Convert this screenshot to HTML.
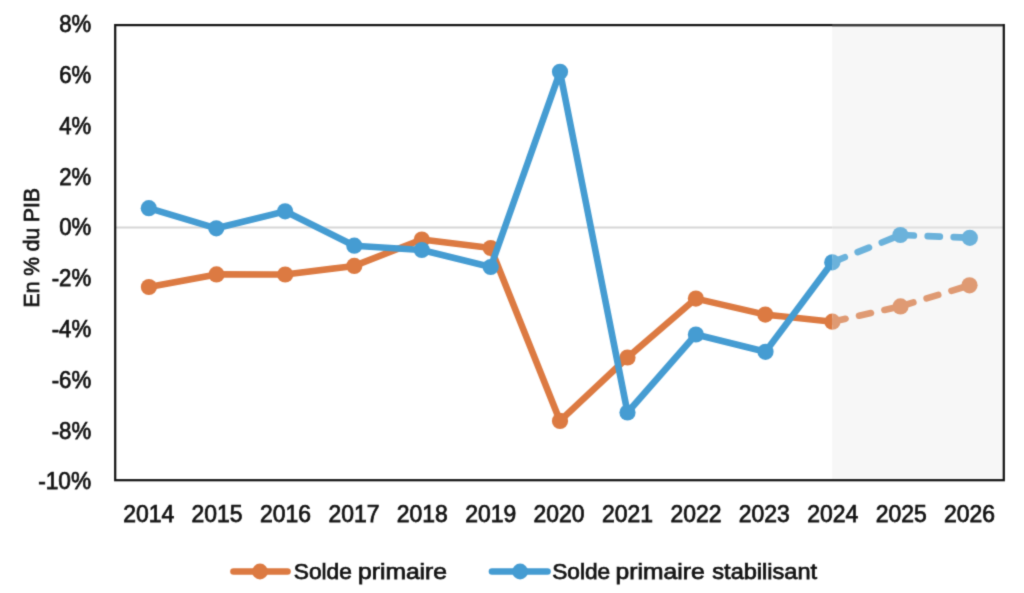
<!DOCTYPE html>
<html lang="fr"><head><meta charset="utf-8"><title>Solde primaire</title>
<style>
html,body{margin:0;padding:0;background:#fff;}
body{width:1024px;height:593px;overflow:hidden;}
svg{display:block;}
text{font-family:"Liberation Sans",sans-serif;font-size:23.5px;fill:#141414;stroke:#141414;stroke-width:0.75px;}
.lg{font-size:22.2px;}
</style></head><body>
<svg width="1024" height="593" viewBox="0 0 1024 593">
<defs>
<filter id="soft" color-interpolation-filters="sRGB" x="0" y="0" width="1024" height="593" filterUnits="userSpaceOnUse"><feConvolveMatrix order="3" kernelMatrix="0.0225 0.1050 0.0225 0.1050 0.4900 0.1050 0.0225 0.1050 0.0225" edgeMode="duplicate" preserveAlpha="false"/></filter>
<clipPath id="cl"><rect x="0" y="0" width="832.2" height="593"/></clipPath>
<clipPath id="cr"><rect x="832.2" y="0" width="191.79999999999995" height="593"/></clipPath>
</defs>
<rect width="1024" height="593" fill="#fff"/>
<g filter="url(#soft)">
<rect x="832.2" y="24" width="171.0" height="456" fill="#f7f7f7"/>
<line x1="115.5" y1="227.5" x2="832.2" y2="227.5" stroke="#d6d6d6" stroke-width="2"/>
<line x1="832.2" y1="227.5" x2="1003.5" y2="227.5" stroke="#dedede" stroke-width="2"/>
<g clip-path="url(#cl)">
<polyline points="148.9,287.0 216.5,274.4 285.2,274.5 354.3,265.9 421.8,239.5 490.7,248.0 560.0,420.9 627.5,357.5 695.9,298.6 765.3,314.6 832.4,321.7" fill="none" stroke="#DC7A42" stroke-width="6.6" stroke-linejoin="round" stroke-linecap="round"/>
<line x1="832.4" y1="321.7" x2="900.5" y2="306.4" stroke="#DC7A42" stroke-width="6.6" stroke-linecap="round" stroke-dasharray="12.2 13.8" stroke-dashoffset="-1.3"/>
<line x1="900.5" y1="306.4" x2="969.5" y2="285.3" stroke="#DC7A42" stroke-width="6.6" stroke-linecap="round" stroke-dasharray="12.2 13.8" stroke-dashoffset="-1.3"/>
<circle cx="148.9" cy="287.0" r="8.1" fill="#DC7A42"/>
<circle cx="216.5" cy="274.4" r="8.1" fill="#DC7A42"/>
<circle cx="285.2" cy="274.5" r="8.1" fill="#DC7A42"/>
<circle cx="354.3" cy="265.9" r="8.1" fill="#DC7A42"/>
<circle cx="421.8" cy="239.5" r="8.1" fill="#DC7A42"/>
<circle cx="490.7" cy="248.0" r="8.1" fill="#DC7A42"/>
<circle cx="560.0" cy="420.9" r="8.1" fill="#DC7A42"/>
<circle cx="627.5" cy="357.5" r="8.1" fill="#DC7A42"/>
<circle cx="695.9" cy="298.6" r="8.1" fill="#DC7A42"/>
<circle cx="765.3" cy="314.6" r="8.1" fill="#DC7A42"/>
<circle cx="832.4" cy="321.7" r="8.1" fill="#DC7A42"/>

<polyline points="148.8,208.2 216.3,228.3 285.1,211.3 354.3,245.7 421.8,250.0 490.7,267.0 560.0,71.8 627.5,412.5 695.9,334.5 765.5,351.8 832.3,262.3" fill="none" stroke="#459CD2" stroke-width="6.6" stroke-linejoin="round" stroke-linecap="round"/>
<line x1="832.3" y1="262.3" x2="900.4" y2="235.0" stroke="#459CD2" stroke-width="6.6" stroke-linecap="round" stroke-dasharray="12.2 13.8" stroke-dashoffset="-1.3"/>
<line x1="900.4" y1="235.0" x2="969.8" y2="237.8" stroke="#459CD2" stroke-width="6.6" stroke-linecap="round" stroke-dasharray="12.2 13.8" stroke-dashoffset="-1.3"/>
<circle cx="148.8" cy="208.2" r="8.1" fill="#459CD2"/>
<circle cx="216.3" cy="228.3" r="8.1" fill="#459CD2"/>
<circle cx="285.1" cy="211.3" r="8.1" fill="#459CD2"/>
<circle cx="354.3" cy="245.7" r="8.1" fill="#459CD2"/>
<circle cx="421.8" cy="250.0" r="8.1" fill="#459CD2"/>
<circle cx="490.7" cy="267.0" r="8.1" fill="#459CD2"/>
<circle cx="560.0" cy="71.8" r="8.1" fill="#459CD2"/>
<circle cx="627.5" cy="412.5" r="8.1" fill="#459CD2"/>
<circle cx="695.9" cy="334.5" r="8.1" fill="#459CD2"/>
<circle cx="765.5" cy="351.8" r="8.1" fill="#459CD2"/>
<circle cx="832.3" cy="262.3" r="8.1" fill="#459CD2"/>

</g>
<g clip-path="url(#cr)">
<line x1="832.4" y1="321.7" x2="900.5" y2="306.4" stroke="#DF9A73" stroke-width="6.6" stroke-linecap="round" stroke-dasharray="12.2 13.8" stroke-dashoffset="-1.3"/>
<line x1="900.5" y1="306.4" x2="969.5" y2="285.3" stroke="#DF9A73" stroke-width="6.6" stroke-linecap="round" stroke-dasharray="12.2 13.8" stroke-dashoffset="-1.3"/>
<circle cx="832.4" cy="321.7" r="8.1" fill="#DF9A73"/>
<circle cx="900.5" cy="306.4" r="8.1" fill="#DF9A73"/>
<circle cx="969.5" cy="285.3" r="8.1" fill="#DF9A73"/>

<line x1="832.3" y1="262.3" x2="900.4" y2="235.0" stroke="#6BB2DB" stroke-width="6.6" stroke-linecap="round" stroke-dasharray="12.2 13.8" stroke-dashoffset="-1.3"/>
<line x1="900.4" y1="235.0" x2="969.8" y2="237.8" stroke="#6BB2DB" stroke-width="6.6" stroke-linecap="round" stroke-dasharray="12.2 13.8" stroke-dashoffset="-1.3"/>
<circle cx="832.3" cy="262.3" r="8.1" fill="#6BB2DB"/>
<circle cx="900.4" cy="235.0" r="8.1" fill="#6BB2DB"/>
<circle cx="969.8" cy="237.8" r="8.1" fill="#6BB2DB"/>

</g>
<rect x="115.2" y="25.1" width="888.6" height="455.1" fill="none" stroke="#161616" stroke-width="2.25"/>
<line x1="832.2" y1="25.1" x2="1002.7" y2="25.1" stroke="#3a3a3a" stroke-width="2.25"/>
<g><text x="59.2" y="32.4" textLength="32.0" lengthAdjust="spacingAndGlyphs">8%</text>
<text x="59.2" y="83.2" textLength="32.0" lengthAdjust="spacingAndGlyphs">6%</text>
<text x="59.2" y="133.9" textLength="32.0" lengthAdjust="spacingAndGlyphs">4%</text>
<text x="59.2" y="184.7" textLength="32.0" lengthAdjust="spacingAndGlyphs">2%</text>
<text x="59.2" y="235.4" textLength="32.0" lengthAdjust="spacingAndGlyphs">0%</text>
<text x="51.7" y="286.2" textLength="39.5" lengthAdjust="spacingAndGlyphs">-2%</text>
<text x="51.7" y="337.0" textLength="39.5" lengthAdjust="spacingAndGlyphs">-4%</text>
<text x="51.7" y="387.7" textLength="39.5" lengthAdjust="spacingAndGlyphs">-6%</text>
<text x="51.7" y="438.5" textLength="39.5" lengthAdjust="spacingAndGlyphs">-8%</text>
<text x="38.2" y="489.2" textLength="53.0" lengthAdjust="spacingAndGlyphs">-10%</text>
</g>
<g><text x="123.2" y="521.8" textLength="51" lengthAdjust="spacingAndGlyphs">2014</text>
<text x="191.6" y="521.8" textLength="51" lengthAdjust="spacingAndGlyphs">2015</text>
<text x="260.0" y="521.8" textLength="51" lengthAdjust="spacingAndGlyphs">2016</text>
<text x="328.4" y="521.8" textLength="51" lengthAdjust="spacingAndGlyphs">2017</text>
<text x="396.8" y="521.8" textLength="51" lengthAdjust="spacingAndGlyphs">2018</text>
<text x="465.2" y="521.8" textLength="51" lengthAdjust="spacingAndGlyphs">2019</text>
<text x="533.6" y="521.8" textLength="51" lengthAdjust="spacingAndGlyphs">2020</text>
<text x="602.0" y="521.8" textLength="51" lengthAdjust="spacingAndGlyphs">2021</text>
<text x="670.4" y="521.8" textLength="51" lengthAdjust="spacingAndGlyphs">2022</text>
<text x="738.8" y="521.8" textLength="51" lengthAdjust="spacingAndGlyphs">2023</text>
<text x="807.2" y="521.8" textLength="51" lengthAdjust="spacingAndGlyphs">2024</text>
<text x="875.7" y="521.8" textLength="51" lengthAdjust="spacingAndGlyphs">2025</text>
<text x="944.1" y="521.8" textLength="51" lengthAdjust="spacingAndGlyphs">2026</text>
</g>
<text transform="translate(38.8,307.4) rotate(-90)" style="font-size:22.5px" textLength="119.4" lengthAdjust="spacingAndGlyphs">En % du PIB</text>
<line x1="233.5" y1="571.5" x2="287.5" y2="571.5" stroke="#DC7A42" stroke-width="6.6" stroke-linecap="round"/>
<circle cx="260" cy="571.5" r="7.9" fill="#DC7A42"/>
<text x="293.8" y="578.6" textLength="58" lengthAdjust="spacingAndGlyphs" class="lg">Solde</text>
<text x="358" y="578.6" textLength="89" lengthAdjust="spacingAndGlyphs" class="lg">primaire</text>
<line x1="492" y1="571.5" x2="547.5" y2="571.5" stroke="#459CD2" stroke-width="6.6" stroke-linecap="round"/>
<circle cx="520.1" cy="571.5" r="7.9" fill="#459CD2"/>
<text x="552.2" y="578.6" textLength="58" lengthAdjust="spacingAndGlyphs" class="lg">Solde</text>
<text x="615.6" y="578.6" textLength="89" lengthAdjust="spacingAndGlyphs" class="lg">primaire</text>
<text x="712.3" y="578.6" textLength="104.8" lengthAdjust="spacingAndGlyphs" class="lg">stabilisant</text>
</g>
</svg>
</body></html>
